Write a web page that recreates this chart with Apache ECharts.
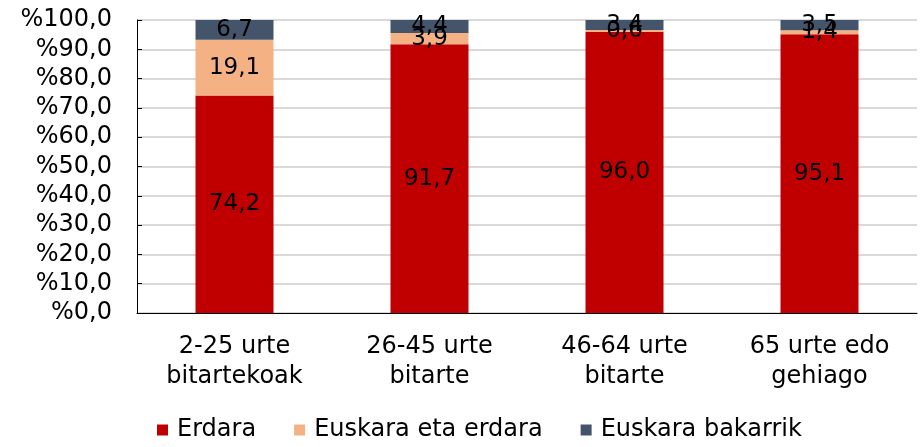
<!DOCTYPE html>
<html>
<head>
<meta charset="utf-8">
<script src="https://cdn.jsdelivr.net/npm/echarts@6/dist/echarts.min.js"></script>
<style>
  html, body { margin: 0; padding: 0; background: #fff; }
  #chart { width: 922px; height: 447px; }
</style>
</head>
<body>
<div id="chart"></div>
<script>
const categories = ['2-25 urte\nbitartekoak', '26-45 urte\nbitarte', '46-64 urte\nbitarte', '65 urte edo\ngehiago'];
const erdara = [74.2, 91.7, 96.0, 95.1];
const euskaraEtaErdara = [19.1, 3.9, 0.6, 1.4];
const euskaraBakarrik = [6.7, 4.4, 3.4, 3.5];

const fmt = v => v.toFixed(1).replace('.', ',');
const font = 'DejaVu Sans, Verdana, sans-serif';

const chart = echarts.init(document.getElementById('chart'));

function makeSeries(name, data, color) {
  return {
    name: name,
    type: 'bar',
    stack: 'total',
    data: data,
    barWidth: '40%',
    itemStyle: { color: color },
    label: {
      show: true,
      position: 'inside',
      color: '#000',
      fontSize: 23,
      fontFamily: font,
      formatter: p => fmt(p.value)
    }
  };
}

chart.setOption({
  animation: false,
  textStyle: { fontFamily: font },
  grid: { left: 137, right: 5, top: 20, bottom: 134 },
  legend: {
    bottom: 0,
    left: 152,
    itemWidth: 11,
    itemHeight: 11,
    itemGap: 38,
    icon: 'rect',
    textStyle: { fontSize: 24, color: '#000', fontFamily: font, padding: [0, 0, 0, 4] },
    data: ['Erdara', 'Euskara eta erdara', 'Euskara bakarrik']
  },
  xAxis: {
    type: 'category',
    data: categories,
    axisLine: { lineStyle: { color: '#000', width: 1 } },
    axisTick: { show: false },
    axisLabel: { color: '#000', fontSize: 24, fontFamily: font, lineHeight: 30, margin: 19 }
  },
  yAxis: {
    type: 'value',
    min: 0,
    max: 100,
    interval: 10,
    axisLine: { show: true, lineStyle: { color: '#000' } },
    axisTick: { show: true, inside: true, length: 5, lineStyle: { color: '#000' } },
    splitLine: { lineStyle: { color: '#d9d9d9', width: 2 } },
    axisLabel: { color: '#000', fontSize: 24, fontFamily: font, margin: 25, formatter: v => '%' + fmt(v) }
  },
  series: [
    makeSeries('Erdara', erdara, '#c00000'),
    makeSeries('Euskara eta erdara', euskaraEtaErdara, '#f4b183'),
    makeSeries('Euskara bakarrik', euskaraBakarrik, '#44546a')
  ]
});
</script>
</body>
</html>
